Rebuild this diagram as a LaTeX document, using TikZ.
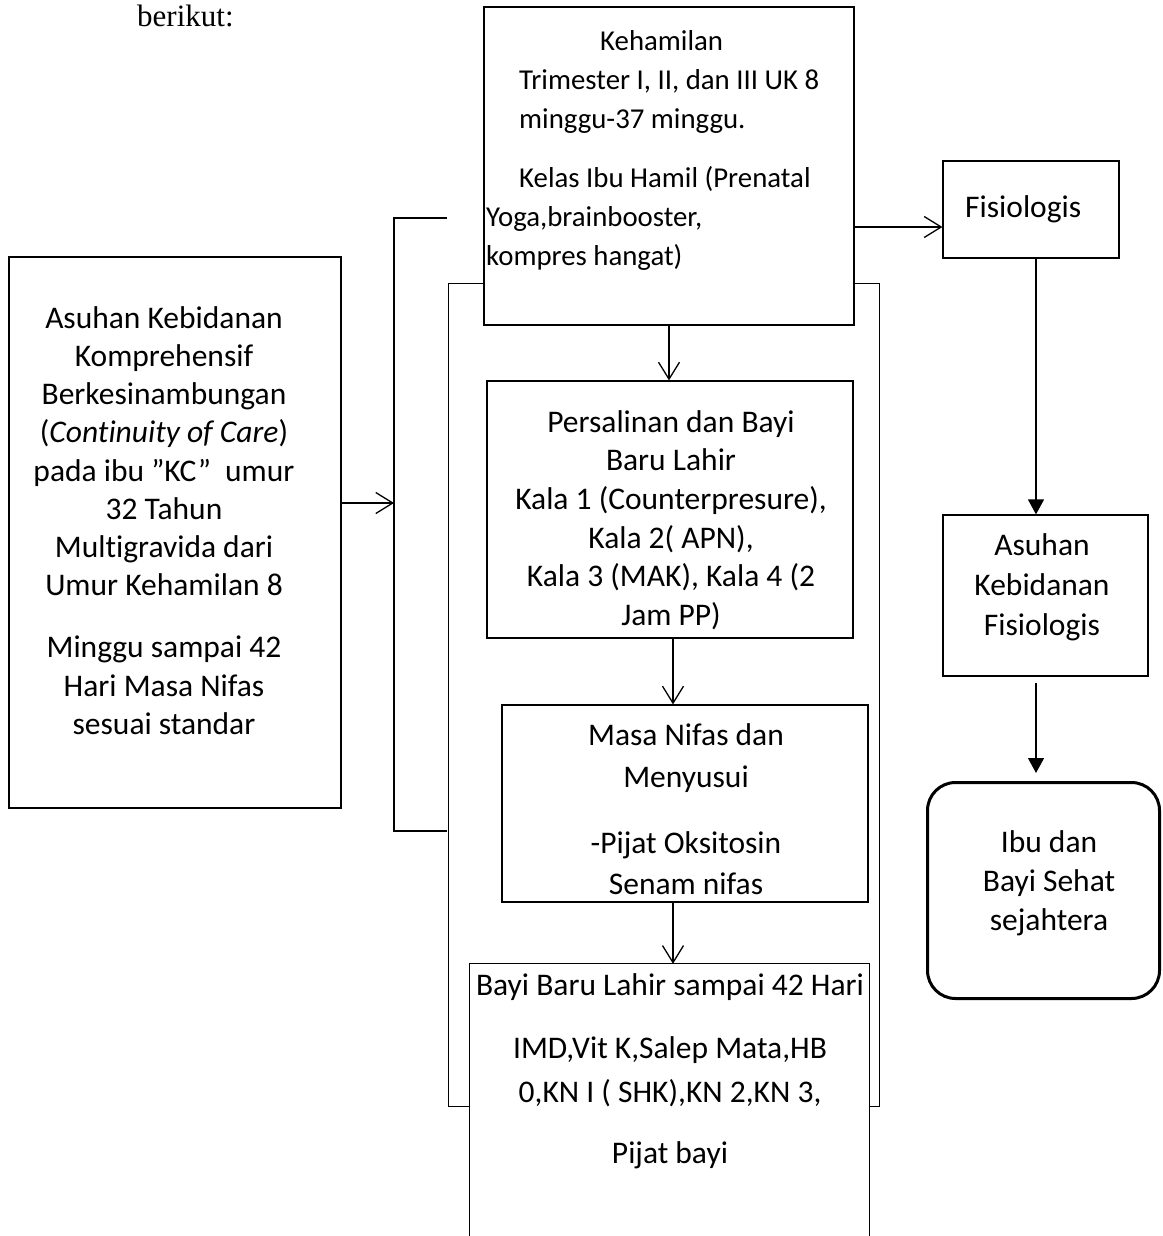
\documentclass[tikz,border=0pt]{standalone}
\usepackage{fontspec}
\setmainfont{Carlito}[Ligatures={TeX,NoCommon}]
\newfontfamily\timesfnt{Liberation Serif}
\usetikzlibrary{arrows.meta}

\tikzset{
  box/.style={draw, line width=1.2pt, fill=white, inner sep=0pt},
  txt/.style={inner sep=0pt, align=center, anchor=north, font={\fontsize{31.5}{#1}\selectfont}},
  txt/.default=39,
  openarrow/.style={line width=1.3pt, -{Straight Barb[length=17pt,width=21pt]}},
  fillarrow/.style={line width=1.3pt, -{Triangle[length=15pt,width=16pt]}},
}

\begin{document}
\begin{tikzpicture}[x=1pt,y=-1pt]
\useasboundingbox (0,0) rectangle (1162,1236);

\node[anchor=base west, inner sep=0pt, font={\timesfnt\fontsize{31}{37}\selectfont}] (intro) at (137,27) {berikut:};

% frame and bracket, behind the boxes
\draw[line width=1pt] (448,283) rectangle (879,1106);
\coordinate (brt) at (394,218);
\coordinate (brb) at (394,831);
\draw[line width=1.6pt] (447,218) -- (brt) -- (brb) -- (447,831);

% boxes
\node[box, minimum width=332pt, minimum height=551pt] (coc) at (175,532.5) {};
\node[box, minimum width=370pt, minimum height=318pt] (keh) at (669,166) {};
\node[box, minimum width=366pt, minimum height=257pt] (pers) at (670,509.5) {};
\node[box, minimum width=366pt, minimum height=197pt] (nifas) at (685,803.5) {};
\node[fill=white, inner sep=0pt, minimum width=399pt, minimum height=272pt] (bbl) at (669.5,1100) {};
\draw[line width=1.2pt] (bbl.south west) -- (bbl.north west) -- (bbl.north east) -- (bbl.south east);
\node[box, minimum width=176pt, minimum height=97pt] (fis) at (1031,209.5) {};
\node[box, minimum width=205pt, minimum height=161pt] (akf) at (1045.5,595.5) {};
\node[box, line width=3pt, rounded corners=28pt, minimum width=232pt, minimum height=216pt] (sehat) at (1043.5,890.5) {};

% texts
\node[txt=38.2] (coctxt) at (164,301.3) {\strut Asuhan Kebidanan\\Komprehensif\\Berkesinambungan\\(\textit{Continuity of Care})\\pada ibu ”KC”\ \ umur\\32 Tahun\\Multigravida dari\\Umur Kehamilan 8\\[24pt]Minggu sampai 42\\Hari Masa Nifas\\sesuai standar};
\node[txt, align=left, anchor=north west, font={\fontsize{28.8}{39}\selectfont}] (kehtxt) at (486,22.7) {\strut\hspace*{114pt}Kehamilan\\
\hspace*{33pt}Trimester I, II, dan III UK 8\\
\hspace*{33pt}minggu-37 minggu.\\[20pt]
\hspace*{33pt}Kelas Ibu Hamil (Prenatal\\
Yoga,brainbooster,\\
kompres hangat)};
\node[txt=38.6] (perstxt) at (671,405) {\strut Persalinan dan Bayi\\Baru Lahir\\Kala 1 (Counterpresure),\\Kala 2( APN),\hspace*{50pt}\\Kala 3 (MAK), Kala 4 (2\\Jam PP)};
\node[txt=41] (nifastxt) at (686,716.3) {\strut Masa Nifas dan\\[1pt]Menyusui\\[25pt]-Pijat Oksitosin\\Senam nifas};
\node[txt=44] (bbltxt) at (670,964.2) {\strut Bayi Baru Lahir sampai 42 Hari\\[19pt]IMD,Vit K,Salep Mata,HB\\0,KN I ( SHK),KN 2,KN 3,\\[17pt]Pijat bayi};
\node[anchor=base west, inner sep=0pt, font={\fontsize{31.5}{39}\selectfont}] (fistxt) at (965,217) {Fisiologis};
\node[txt=40] (akftxt) at (1042,527) {\strut Asuhan\\Kebidanan\\Fisiologis};
\node[txt] (sehattxt) at (1049,824.7) {\strut Ibu dan\\Bayi Sehat\\sejahtera};

% connectors
\coordinate (ly) at (0,503);
\draw[openarrow] (coc.east |- ly) -- (brt |- ly);
\draw[openarrow] (keh.south) -- (keh.south |- pers.north);
\draw[openarrow] ([xshift=3pt]pers.south) -- ([xshift=3pt]pers.south |- nifas.north);
\draw[openarrow] ([xshift=3.5pt]bbl.north |- nifas.south) -- ([xshift=3.5pt]bbl.north);
\coordinate (fy) at (0,227);
\draw[openarrow] (keh.east |- fy) -- (fis.west |- fy);
\coordinate (rx) at (1036,0);
\draw[fillarrow] (fis.south -| rx) -- (akf.north -| rx);
\draw[fillarrow, shorten <=6pt, shorten >=8pt] (akf.south -| rx) -- (sehat.north -| rx);
\end{tikzpicture}
\end{document}
